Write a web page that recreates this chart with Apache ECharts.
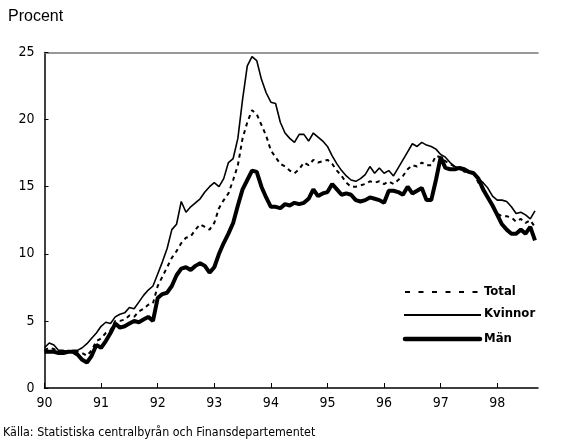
<!DOCTYPE html>
<html><head><meta charset="utf-8">
<script src="https://cdn.jsdelivr.net/npm/echarts@6/dist/echarts.min.js"></script>
<style>html,body{margin:0;padding:0;background:#fff}#c{width:566px;height:441px}</style>
</head><body><div id="c"></div>
<script>
// monthly observations, Jan 1990 .. Sep 1998
var startYear = 90;
var xTicks = [90, 91, 92, 93, 94, 95, 96, 97, 98];
var yTicks = [0, 5, 10, 15, 20, 25];
var seriesNames = ['Total', 'Kvinnor', 'Män'];
var total = [2.8,3.0,2.9,2.7,2.7,2.7,2.8,2.7,2.6,2.4,2.8,3.5,
  3.7,4.1,4.3,5.0,5.0,5.1,5.4,5.3,5.7,5.9,6.2,6.3,
  7.6,8.3,9.0,9.7,10.2,10.8,11.2,11.3,11.8,12.2,12.0,11.8,
  12.3,13.4,14.0,14.5,15.5,16.6,18.6,19.8,20.7,20.4,19.6,18.8,
  17.7,17.2,16.7,16.5,16.2,16.0,16.3,16.8,16.6,17.0,16.8,16.9,
  17.0,16.7,16.2,15.8,15.3,15.0,15.0,15.1,15.2,15.4,15.3,15.4,
  15.2,15.4,15.2,15.5,15.8,16.3,16.6,16.5,16.8,16.6,16.6,17.3,
  17.2,16.9,16.7,16.5,16.3,16.2,16.1,16.0,15.3,14.8,14.2,13.5,
  13.0,12.8,12.8,12.7,12.4,12.6,12.3,12.5,12.0];
var kvinnor = [3.0,3.35,3.2,2.8,2.8,2.7,2.8,2.8,3.0,3.3,3.7,4.1,
  4.6,4.9,4.8,5.3,5.5,5.6,6.0,5.9,6.4,6.9,7.3,7.6,
  8.5,9.4,10.4,11.8,12.2,13.9,13.1,13.5,13.8,14.1,14.6,15.0,
  15.3,15.0,15.6,16.8,17.1,18.6,21.5,24.0,24.7,24.4,23.0,22.0,
  21.3,21.2,19.8,19.0,18.6,18.3,18.9,18.9,18.4,19.0,18.7,18.4,
  18.0,17.3,16.7,16.2,15.8,15.5,15.4,15.6,15.9,16.5,16.0,16.4,
  16.0,16.2,15.8,16.4,17.0,17.6,18.2,18.0,18.3,18.1,18.0,17.8,
  17.4,17.2,16.8,16.5,16.4,16.1,16.1,16.0,15.6,15.3,14.9,14.3,
  14.0,14.0,13.9,13.5,13.0,13.1,12.9,12.6,13.2];
var man = [2.7,2.7,2.7,2.6,2.6,2.7,2.7,2.5,2.1,1.9,2.4,3.2,
  3.0,3.5,4.1,4.8,4.5,4.6,4.8,5.0,4.9,5.1,5.3,5.0,
  6.7,7.0,7.1,7.6,8.4,8.9,9.0,8.8,9.1,9.3,9.1,8.6,
  9.0,10.0,10.8,11.5,12.3,13.6,14.8,15.5,16.2,16.1,15.0,14.2,
  13.5,13.5,13.4,13.7,13.6,13.8,13.7,13.8,14.1,14.8,14.3,14.5,
  14.6,15.2,14.8,14.4,14.5,14.4,14.0,13.9,14.0,14.2,14.1,14.0,
  13.8,14.7,14.7,14.6,14.4,15.0,14.5,14.7,14.9,14.0,14.0,15.5,
  17.2,16.4,16.3,16.3,16.4,16.3,16.1,16.0,15.6,14.8,14.2,13.6,
  12.9,12.2,11.8,11.5,11.5,11.8,11.5,12.0,11.0];

function pairs(arr){ return arr.map(function(v,i){ return [startYear + i/12, v]; }); }

var narrow = "'Liberation Sans Narrow','DejaVu Sans Condensed','Arial Narrow',sans-serif";
var legendFont = "bold 13px " + narrow;
var chart = echarts.init(document.getElementById('c'), null, {renderer:'canvas'});
chart.setOption({
  animation:false,
  backgroundColor:'#fff',
  grid:{left:44.5, top:52.5, right:28, bottom:53, containLabel:false},
  xAxis:[{
    type:'value', min:90, max:98.72, interval:1,
    axisLine:{show:true, lineStyle:{color:'#000', width:1.5}},
    axisTick:{show:true, inside:true, length:5, lineStyle:{color:'#000', width:1}, customValues:xTicks},
    axisLabel:{color:'#000', fontFamily:narrow, fontSize:14, margin:8, customValues:xTicks,
      formatter:function(v){return String(v);}},
    splitLine:{show:false}
  },{
    type:'value', position:'top', min:90, max:98.72,
    axisLine:{show:true, onZero:false, lineStyle:{color:'#777', width:1.5}},
    axisTick:{show:false}, axisLabel:{show:false}, splitLine:{show:false}
  }],
  yAxis:{
    type:'value', min:0, max:25, interval:5,
    axisLine:{show:true, lineStyle:{color:'#000', width:1.5}},
    axisTick:{show:true, inside:true, length:4, lineStyle:{color:'#000', width:1}},
    axisLabel:{color:'#000', fontFamily:narrow, fontSize:14, margin:10},
    splitLine:{show:false}
  },
  legend:{show:false},
  graphic:[
    {type:'text', left:8, top:9, style:{text:'Procent', fill:'#000', font:"16px 'Liberation Sans', Arial, sans-serif"}},
    {type:'text', x:3, y:426, scaleX:0.95, style:{text:'Källa: Statistiska centralbyrån och Finansdepartementet', fill:'#000', font:"13px "+narrow}},
    {type:'line', shape:{x1:405, y1:292, x2:481, y2:292}, style:{stroke:'#000', lineWidth:2.2, lineDash:[5,8.5]}},
    {type:'text', x:484, y:292, style:{text:seriesNames[0], fill:'#000', font:legendFont, textVerticalAlign:'middle'}},
    {type:'line', shape:{x1:404, y1:315, x2:481, y2:315}, style:{stroke:'#000', lineWidth:1.8}},
    {type:'text', x:484, y:314, style:{text:seriesNames[1], fill:'#000', font:legendFont, textVerticalAlign:'middle'}},
    {type:'line', shape:{x1:405, y1:339, x2:480, y2:339}, style:{stroke:'#000', lineWidth:4.5, lineCap:'round'}},
    {type:'text', x:484, y:339, style:{text:seriesNames[2], fill:'#000', font:legendFont, textVerticalAlign:'middle'}}
  ],
  series:[
    {name:seriesNames[0], type:'line', data:pairs(total), showSymbol:false, symbol:'none',
      lineStyle:{color:'#000', width:2, type:[4,4]}, itemStyle:{color:'#000'}},
    {name:seriesNames[1], type:'line', data:pairs(kvinnor), showSymbol:false, symbol:'none',
      lineStyle:{color:'#000', width:1.6}, itemStyle:{color:'#000'}},
    {name:seriesNames[2], type:'line', data:pairs(man), showSymbol:false, symbol:'none',
      lineStyle:{color:'#000', width:4}, itemStyle:{color:'#000'}}
  ]
});
</script></body></html>
